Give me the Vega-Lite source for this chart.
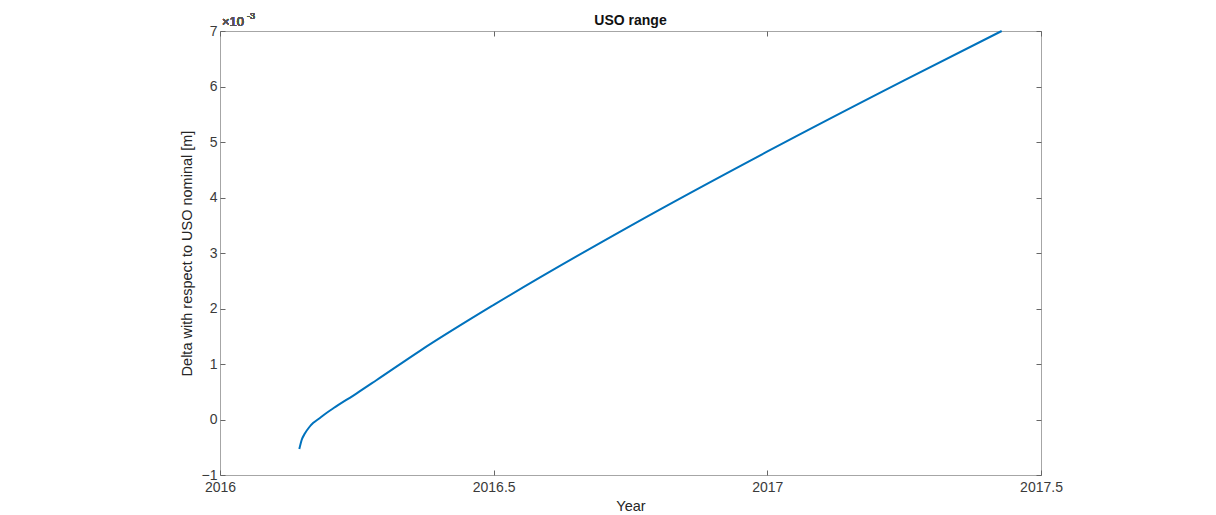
{
  "$schema": "https://vega.github.io/schema/vega-lite/v6.json",
  "autosize": "none",
  "width": 821,
  "height": 444,
  "padding": {"left": 220, "top": 31, "right": 175, "bottom": 40},
  "background": "white",
  "config": {
    "font": "Liberation Sans",
    "view": {"stroke": "#a6a6a6", "strokeWidth": 1},
    "axis": {
      "labelFont": "Liberation Sans",
      "titleFont": "Liberation Sans",
      "labelFontSize": 14,
      "titleFontSize": 14.5,
      "labelColor": "#3a3a3a",
      "titleColor": "#262626",
      "titleFontWeight": "normal",
      "domain": false,
      "grid": false,
      "tickColor": "#666666",
      "tickSize": -5
    }
  },
  "title": {"text": "USO range", "fontSize": 14, "fontWeight": "bold", "color": "#111111", "font": "Liberation Sans", "offset": -16},
  "data": {
    "values": [
      {"year": 2016.1449, "delta": -0.000532},
      {"year": 2016.1492, "delta": -0.000369},
      {"year": 2016.1553, "delta": -0.000249},
      {"year": 2016.1626, "delta": -0.000144},
      {"year": 2016.1705, "delta": -0.000060},
      {"year": 2016.1800, "delta": 0.000010},
      {"year": 2016.1920, "delta": 0.000100},
      {"year": 2016.2070, "delta": 0.000202},
      {"year": 2016.2498, "delta": 0.000472},
      {"year": 2016.2863, "delta": 0.000712},
      {"year": 2016.3654, "delta": 0.001238},
      {"year": 2016.5001, "delta": 0.002065},
      {"year": 2016.7500, "delta": 0.003490},
      {"year": 2016.9994, "delta": 0.004825},
      {"year": 2017.2500, "delta": 0.006110},
      {"year": 2017.4282, "delta": 0.007000}
    ]
  },
  "layer": [
    {
      "mark": {"type": "line", "color": "#0072BD", "strokeWidth": 2, "interpolate": "monotone"},
      "encoding": {
        "x": {
          "field": "year", "type": "quantitative",
          "scale": {"domain": [2016, 2017.5], "nice": false, "zero": false},
          "axis": {"title": "Year", "values": [2016, 2016.5, 2017, 2017.5], "labelExpr": "datum.value", "labelPadding": 10, "titlePadding": 5, "labelFlush": false}
        },
        "y": {
          "field": "delta", "type": "quantitative",
          "scale": {"domain": [-0.001, 0.007], "nice": false, "zero": false},
          "axis": {"title": "Delta with respect to USO nominal [m]", "values": [-0.001, 0, 0.001, 0.002, 0.003, 0.004, 0.005, 0.006, 0.007], "labelExpr": "format(datum.value*1000, 'd')", "labelPadding": 8, "titlePadding": 7, "labelFlush": false}
        }
      }
    },
    {
      "mark": {"type": "line", "opacity": 0},
      "encoding": {
        "x": {
          "field": "year", "type": "quantitative",
          "scale": {"domain": [2016, 2017.5], "nice": false, "zero": false},
          "axis": {"orient": "top", "title": null, "labels": false, "values": [2016, 2016.5, 2017, 2017.5]}
        },
        "y": {
          "field": "delta", "type": "quantitative",
          "scale": {"domain": [-0.001, 0.007], "nice": false, "zero": false},
          "axis": {"orient": "right", "title": null, "labels": false, "values": [-0.001, 0, 0.001, 0.002, 0.003, 0.004, 0.005, 0.006, 0.007]}
        }
      }
    },
    {
      "mark": {"type": "text", "align": "left", "baseline": "alphabetic", "dx": 2, "dy": -5, "fontSize": 13, "color": "#555555", "font": "Liberation Sans"},
      "encoding": {
        "x": {"datum": 2016, "type": "quantitative", "axis": null},
        "y": {"datum": 0.007, "type": "quantitative", "axis": null},
        "text": {"value": "×10"}
      }
    },
    {
      "mark": {"type": "text", "align": "left", "baseline": "alphabetic", "dx": 27, "dy": -12, "fontSize": 9, "color": "#555555", "font": "Liberation Sans"},
      "encoding": {
        "x": {"datum": 2016, "type": "quantitative", "axis": null},
        "y": {"datum": 0.007, "type": "quantitative", "axis": null},
        "text": {"value": "-3"}
      }
    }
  ],
  "resolve": {"axis": {"x": "independent", "y": "independent"}}
}
